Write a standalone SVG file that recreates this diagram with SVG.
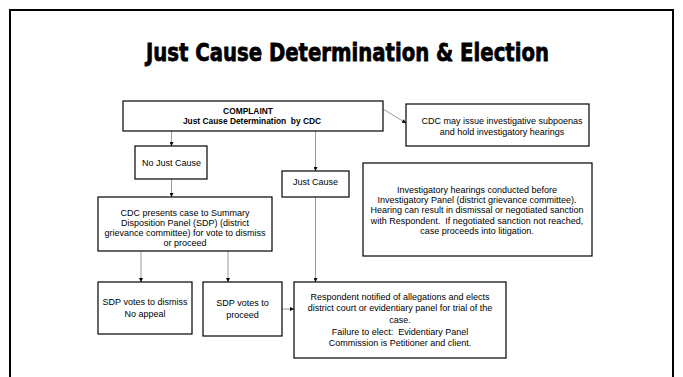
<svg xmlns="http://www.w3.org/2000/svg" width="683" height="377" viewBox="0 0 683 377">
<style>
.box{fill:#fff;stroke:#000;stroke-width:1.2}
.t{font-family:"Liberation Sans",Arial,sans-serif;font-size:9px;fill:#000;text-anchor:middle;white-space:pre}
.b{font-weight:bold;font-size:8.4px}
.c{stroke:#808080;stroke-width:0.8;fill:none;marker-end:url(#ah)}
.title{font-family:"DejaVu Sans","Liberation Sans",sans-serif;font-weight:bold;font-size:25px;stroke:#000;stroke-width:0.8;fill:#000}
</style>
<defs>
<marker id="ah" viewBox="0 0 6 6" refX="6" refY="3" markerWidth="4" markerHeight="4" markerUnits="userSpaceOnUse" orient="auto"><path d="M0,0L6,3L0,6z" fill="#000"/></marker>
</defs>
<rect x="0" y="0" width="683" height="377" fill="#fff"/>
<path d="M10,377V10H673V377" fill="none" stroke="#000" stroke-width="2"/>
<text class="title" x="146" y="61" textLength="403" lengthAdjust="spacingAndGlyphs">Just Cause Determination &amp; Election</text>
<g id="connectors">
<path class="c" d="M171.5,131V146"/>
<path class="c" d="M315.5,131V171"/>
<path class="c" d="M383,109L406,123"/>
<path class="c" d="M171.5,179V197"/>
<path class="c" d="M141,251V282"/>
<path class="c" d="M228,251V282"/>
<path class="c" d="M315.5,197V282"/>
<path class="c" d="M282,309H294"/>
</g>
<g id="complaint">
<rect class="box" x="123" y="101" width="260" height="30"/>
<text class="t b" x="248" y="113.5">COMPLAINT</text>
<text class="t b" x="252" y="124">Just Cause Determination  by CDC</text>
</g>
<g id="subpoenas">
<rect class="box" x="406" y="104" width="183" height="42"/>
<text class="t" x="502" y="124">CDC may issue investigative subpoenas</text>
<text class="t" x="502" y="135">and hold investigatory hearings</text>
</g>
<g id="no-just-cause">
<rect class="box" x="135" y="146" width="72" height="33"/>
<text class="t" x="171.5" y="166">No Just Cause</text>
</g>
<g id="just-cause">
<rect class="box" x="282" y="171" width="67" height="26"/>
<text class="t" x="315.5" y="185">Just Cause</text>
</g>
<g id="investigatory">
<rect class="box" x="363" y="163" width="229" height="93"/>
<text class="t" x="477" y="192.5">Investigatory hearings conducted before</text>
<text class="t" x="477" y="203">Investigatory Panel (district grievance committee).</text>
<text class="t" x="477" y="213.3">Hearing can result in dismissal or negotiated sanction</text>
<text class="t" x="477" y="223.7">with Respondent.  If negotiated sanction not reached,</text>
<text class="t" x="477" y="234">case proceeds into litigation.</text>
</g>
<g id="sdp-presents">
<rect class="box" x="98" y="197" width="174" height="54"/>
<text class="t" x="185" y="215.5">CDC presents case to Summary</text>
<text class="t" x="185" y="225.5">Disposition Panel (SDP) (district</text>
<text class="t" x="185" y="235.5">grievance committee) for vote to dismiss</text>
<text class="t" x="185" y="245.5">or proceed</text>
</g>
<g id="sdp-dismiss">
<rect class="box" x="98" y="282" width="94" height="52"/>
<text class="t" x="145" y="305">SDP votes to dismiss</text>
<text class="t" x="145" y="316.5">No appeal</text>
</g>
<g id="sdp-proceed">
<rect class="box" x="203" y="282" width="79" height="54"/>
<text class="t" x="242.5" y="306">SDP votes to</text>
<text class="t" x="242.5" y="317.5">proceed</text>
</g>
<g id="respondent">
<rect class="box" x="294" y="282" width="212" height="76"/>
<text class="t" x="400" y="300">Respondent notified of allegations and elects</text>
<text class="t" x="400" y="311">district court or evidentiary panel for trial of the</text>
<text class="t" x="400" y="322.5">case.</text>
<text class="t" x="400" y="334.5">Failure to elect:  Evidentiary Panel</text>
<text class="t" x="400" y="345.5">Commission is Petitioner and client.</text>
</g>
</svg>
